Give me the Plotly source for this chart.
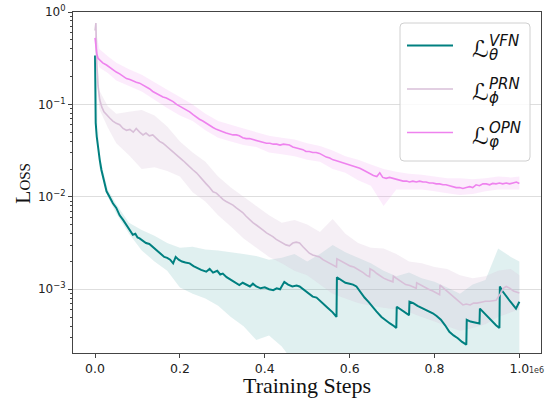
import plotly.graph_objects as go

# ---------------- data (x in units of 1e6 steps, y as log10(loss)) ----------------
vfn_x = [0.000, 0.0015, 0.004, 0.007, 0.011, 0.015, 0.020, 0.027, 0.034, 0.042, 0.050, 0.058, 0.066, 0.075,
         0.082, 0.089, 0.095, 0.100, 0.105, 0.112, 0.120, 0.128, 0.136, 0.143, 0.150, 0.157, 0.163, 0.170,
         0.177, 0.184, 0.190, 0.197, 0.205, 0.213, 0.223, 0.232, 0.240, 0.250, 0.262, 0.270, 0.278, 0.288,
         0.295, 0.301, 0.310, 0.320, 0.330, 0.340, 0.348, 0.356, 0.365, 0.372, 0.380, 0.390, 0.400, 0.410,
         0.420, 0.428, 0.436, 0.446, 0.455, 0.465, 0.475, 0.482, 0.490, 0.500, 0.513, 0.522, 0.535, 0.548,
         0.560, 0.569, 0.570, 0.580, 0.590, 0.600, 0.608, 0.616, 0.625, 0.635, 0.645, 0.655, 0.663, 0.675,
         0.685, 0.695, 0.705, 0.710, 0.711, 0.720, 0.730, 0.740, 0.741, 0.750, 0.760, 0.770, 0.780, 0.790,
         0.796, 0.805, 0.815, 0.825, 0.835, 0.845, 0.855, 0.865, 0.875, 0.876, 0.885, 0.895, 0.906, 0.907,
         0.915, 0.925, 0.935, 0.945, 0.953, 0.954, 0.960, 0.969, 0.978, 0.985, 0.992, 1.000]
vfn_log = [-0.47, -1.20, -1.35, -1.49, -1.60, -1.71, -1.82, -1.94, -2.00, -2.07, -2.12, -2.20, -2.25, -2.31,
           -2.37, -2.41, -2.40, -2.44, -2.45, -2.47, -2.50, -2.51, -2.54, -2.57, -2.60, -2.62, -2.65, -2.66,
           -2.68, -2.72, -2.65, -2.68, -2.70, -2.71, -2.72, -2.75, -2.77, -2.79, -2.81, -2.78, -2.82, -2.80,
           -2.84, -2.83, -2.87, -2.90, -2.93, -2.955, -2.93, -2.95, -2.97, -2.94, -2.97, -2.99, -2.98, -3.00,
           -3.01, -2.99, -3.00, -2.92, -2.95, -2.97, -2.96, -2.97, -3.00, -3.04, -3.08, -3.09, -3.15, -3.20,
           -3.25, -3.30, -2.87, -2.90, -2.93, -2.94, -2.95, -2.97, -3.03, -3.09, -3.14, -3.20, -3.24, -3.30,
           -3.34, -3.37, -3.40, -3.42, -3.19, -3.22, -3.25, -3.28, -3.135, -3.15, -3.18, -3.20, -3.22, -3.24,
           -3.26, -3.29, -3.33, -3.39, -3.46, -3.50, -3.53, -3.57, -3.60, -3.33, -3.35, -3.36, -3.37, -3.21,
           -3.25, -3.30, -3.35, -3.39, -3.42, -2.97, -3.02, -3.08, -3.13, -3.17, -3.21, -3.135]

prn_x = [0.000, 0.002, 0.004, 0.007, 0.011, 0.016, 0.021, 0.027, 0.035, 0.042, 0.050, 0.058, 0.066, 0.074,
         0.082, 0.090, 0.097, 0.105, 0.113, 0.120, 0.128, 0.136, 0.144, 0.152, 0.160, 0.168, 0.176, 0.184,
         0.192, 0.200, 0.208, 0.215, 0.223, 0.231, 0.239, 0.246, 0.254, 0.262, 0.270, 0.278, 0.286, 0.294,
         0.302, 0.309, 0.317, 0.325, 0.333, 0.340, 0.348, 0.356, 0.364, 0.372, 0.380, 0.388, 0.396, 0.404,
         0.412, 0.419, 0.427, 0.435, 0.443, 0.450, 0.458, 0.466, 0.474, 0.482, 0.490, 0.498, 0.505, 0.513,
         0.521, 0.529, 0.537, 0.545, 0.553, 0.561, 0.569, 0.570, 0.578, 0.586, 0.594, 0.602, 0.610, 0.616,
         0.625, 0.632, 0.640, 0.647, 0.648, 0.656, 0.664, 0.672, 0.680, 0.690, 0.702, 0.703, 0.712, 0.722,
         0.732, 0.742, 0.750, 0.757, 0.758, 0.766, 0.776, 0.786, 0.796, 0.804, 0.812, 0.813, 0.822, 0.832,
         0.842, 0.852, 0.860, 0.867, 0.875, 0.884, 0.892, 0.900, 0.910, 0.920, 0.930, 0.945, 0.955, 0.962,
         0.969, 0.978, 0.986, 0.993, 1.000]
prn_log = [-0.20, -0.12, -0.55, -0.80, -0.95, -1.03, -1.08, -1.115, -1.15, -1.18, -1.205, -1.22, -1.26, -1.28,
           -1.27, -1.30, -1.26, -1.30, -1.33, -1.31, -1.34, -1.33, -1.37, -1.40, -1.42, -1.45, -1.48, -1.51,
           -1.55, -1.58, -1.61, -1.64, -1.68, -1.71, -1.74, -1.78, -1.82, -1.86, -1.90, -1.945, -1.96, -2.00,
           -2.03, -2.05, -2.07, -2.09, -2.12, -2.14, -2.17, -2.21, -2.25, -2.28, -2.305, -2.33, -2.36, -2.39,
           -2.41, -2.43, -2.46, -2.48, -2.50, -2.52, -2.53, -2.50, -2.49, -2.50, -2.54, -2.58, -2.61, -2.63,
           -2.64, -2.65, -2.68, -2.70, -2.72, -2.74, -2.76, -2.67, -2.69, -2.71, -2.73, -2.75, -2.76, -2.775,
           -2.80, -2.82, -2.85, -2.865, -2.78, -2.80, -2.83, -2.86, -2.88, -2.90, -2.92, -2.86, -2.89, -2.92,
           -2.95, -2.96, -2.98, -2.99, -2.93, -2.95, -2.98, -3.00, -3.02, -3.04, -3.06, -2.955, -2.99, -3.03,
           -3.07, -3.11, -3.14, -3.17, -3.16, -3.17, -3.15, -3.15, -3.14, -3.13, -3.13, -3.12, -3.05, -2.99,
           -2.97, -2.99, -3.02, -3.03, -3.04]

opn_x = [0.000, 0.002, 0.004, 0.007, 0.012, 0.018, 0.027, 0.035, 0.042, 0.050, 0.058, 0.066, 0.074, 0.082,
         0.090, 0.097, 0.105, 0.113, 0.120, 0.128, 0.136, 0.144, 0.152, 0.160, 0.168, 0.176, 0.184, 0.192,
         0.200, 0.208, 0.215, 0.223, 0.231, 0.239, 0.246, 0.254, 0.262, 0.270, 0.278, 0.286, 0.294, 0.301,
         0.309, 0.317, 0.325, 0.333, 0.340, 0.348, 0.356, 0.364, 0.372, 0.380, 0.388, 0.396, 0.404, 0.412,
         0.420, 0.428, 0.436, 0.444, 0.452, 0.458, 0.466, 0.474, 0.482, 0.490, 0.497, 0.505, 0.513, 0.521,
         0.529, 0.537, 0.545, 0.553, 0.561, 0.569, 0.576, 0.584, 0.592, 0.600, 0.608, 0.616, 0.624, 0.632,
         0.640, 0.648, 0.656, 0.664, 0.671, 0.678, 0.686, 0.694, 0.702, 0.710, 0.718, 0.726, 0.734, 0.741,
         0.749, 0.757, 0.765, 0.773, 0.780, 0.788, 0.796, 0.804, 0.812, 0.820, 0.827, 0.835, 0.843, 0.851,
         0.859, 0.867, 0.875, 0.883, 0.890, 0.898, 0.906, 0.914, 0.922, 0.930, 0.937, 0.945, 0.953, 0.961,
         0.969, 0.977, 0.985, 0.993, 1.000]
opn_log = [-0.28, -0.40, -0.45, -0.50, -0.52, -0.55, -0.574, -0.60, -0.63, -0.65, -0.67, -0.70, -0.72, -0.73,
           -0.75, -0.76, -0.77, -0.79, -0.81, -0.83, -0.86, -0.88, -0.90, -0.92, -0.93, -0.95, -0.97, -1.00,
           -1.02, -1.04, -1.06, -1.08, -1.11, -1.14, -1.16, -1.18, -1.205, -1.23, -1.25, -1.27, -1.28, -1.295,
           -1.31, -1.32, -1.33, -1.33, -1.34, -1.36, -1.37, -1.37, -1.38, -1.385, -1.40, -1.41, -1.42, -1.42,
           -1.43, -1.43, -1.44, -1.43, -1.44, -1.44, -1.46, -1.47, -1.475, -1.49, -1.51, -1.51, -1.52, -1.52,
           -1.53, -1.55, -1.57, -1.58, -1.60, -1.61, -1.62, -1.63, -1.64, -1.66, -1.67, -1.68, -1.69, -1.71,
           -1.73, -1.75, -1.77, -1.78, -1.74, -1.79, -1.80, -1.79, -1.80, -1.81, -1.82, -1.83, -1.83, -1.84,
           -1.83, -1.84, -1.83, -1.84, -1.84, -1.85, -1.85, -1.86, -1.86, -1.87, -1.87, -1.88, -1.89, -1.90,
           -1.90, -1.91, -1.90, -1.89, -1.90, -1.87, -1.88, -1.86, -1.86, -1.87, -1.855, -1.86, -1.85, -1.86,
           -1.85, -1.86, -1.85, -1.84, -1.855]

band_x = [0, 0.01, 0.03, 0.05, 0.08, 0.11, 0.14, 0.17, 0.20, 0.23, 0.26, 0.29, 0.32, 0.35, 0.38, 0.41, 0.44,
          0.47, 0.50, 0.53, 0.56, 0.59, 0.62, 0.65, 0.68, 0.71, 0.74, 0.77, 0.80, 0.83, 0.86, 0.89, 0.92,
          0.95, 0.98, 1.0]
vfn_upper = [-0.45, -1.55, -1.92, -2.08, -2.28, -2.36, -2.42, -2.50, -2.55, -2.54, -2.57, -2.58, -2.60, -2.62,
             -2.64, -2.68, -2.66, -2.62, -2.70, -2.62, -2.52, -2.60, -2.66, -2.72, -2.80, -2.86, -2.82, -2.88,
             -2.92, -2.98, -3.05, -2.95, -2.90, -2.56, -2.65, -2.70]
vfn_lower = [-0.50, -1.68, -2.00, -2.18, -2.40, -2.58, -2.70, -2.80, -2.98, -3.05, -3.10, -3.18, -3.30, -3.40,
             -3.55, -3.50, -3.62, -3.80, -3.75, -3.70, -3.90, -3.95, -3.85, -3.95, -4.00, -3.90, -3.95, -3.85,
             -4.00, -3.95, -4.10, -4.00, -3.90, -3.85, -3.80, -3.75]
prn_upper = [-0.10, -0.85, -1.02, -1.10, -1.08, -1.06, -1.12, -1.24, -1.40, -1.52, -1.62, -1.78, -1.90, -2.00,
             -2.10, -2.20, -2.28, -2.25, -2.30, -2.38, -2.24, -2.40, -2.50, -2.55, -2.56, -2.62, -2.70, -2.72,
             -2.76, -2.78, -2.85, -2.88, -2.86, -2.80, -2.78, -2.85]
prn_lower = [-0.40, -1.05, -1.25, -1.42, -1.55, -1.70, -1.68, -1.72, -1.78, -1.95, -2.05, -2.20, -2.32, -2.45,
             -2.55, -2.65, -2.72, -2.80, -2.85, -2.95, -3.05, -3.10, -3.15, -3.18, -3.20, -3.22, -3.25, -3.30,
             -3.35, -3.40, -3.45, -3.42, -3.38, -3.30, -3.25, -3.22]
opn_upper = [-0.15, -0.40, -0.48, -0.55, -0.62, -0.68, -0.76, -0.84, -0.92, -1.00, -1.10, -1.18, -1.22, -1.26,
             -1.30, -1.34, -1.36, -1.38, -1.42, -1.45, -1.50, -1.56, -1.60, -1.65, -1.70, -1.73, -1.75, -1.76,
             -1.78, -1.80, -1.80, -1.81, -1.80, -1.78, -1.79, -1.78]
opn_lower = [-0.40, -0.60, -0.66, -0.74, -0.80, -0.86, -0.95, -1.04, -1.12, -1.18, -1.28, -1.36, -1.40, -1.44,
             -1.46, -1.52, -1.54, -1.56, -1.60, -1.62, -1.70, -1.74, -1.82, -1.88, -2.10, -1.92, -1.92, -1.92,
             -1.94, -1.96, -1.98, -1.97, -1.94, -1.92, -1.92, -1.92]

x_tick_vals = [0.0, 0.2, 0.4, 0.6, 0.8, 1.0]
x_tick_text = ["0.0", "0.2", "0.4", "0.6", "0.8", "1.0"]
y_tick_vals = [1, 0.1, 0.01, 0.001]
y_tick_text = ["10<sup>0</sup>", "10<sup>\u22121</sup>", "10<sup>\u22122</sup>", "10<sup>\u22123</sup>"]

series = [
    ("VFN", "\u03b8", vfn_x, vfn_log, vfn_upper, vfn_lower, "#008080", "rgba(0,128,128,0.12)", 2.0),
    ("PRN", "\u03d5", prn_x, prn_log, prn_upper, prn_lower, "#D8BFD8", "rgba(216,191,216,0.25)", 1.6),
    ("OPN", "\u03c6", opn_x, opn_log, opn_upper, opn_lower, "#EE82EE", "rgba(238,130,238,0.15)", 1.6),
]

SCALE = 1e6
fig = go.Figure()
for name, sub, xs, ys, up, lo, col, fcol, lw in series:
    bx = [v * SCALE for v in band_x] + [v * SCALE for v in band_x[::-1]]
    by = [10 ** v for v in up] + [10 ** v for v in lo[::-1]]
    fig.add_trace(go.Scatter(x=bx, y=by, fill="toself", fillcolor=fcol, mode="none",
                             hoverinfo="skip", showlegend=False))
for name, sub, xs, ys, up, lo, col, fcol, lw in series:
    fig.add_trace(go.Scatter(x=[v * SCALE for v in xs], y=[10 ** v for v in ys], mode="lines",
                             line=dict(color=col, width=lw), name=f"\u2112{sub}{name}", showlegend=False))

# ---------------- custom legend (stacked sub/superscripts) ----------------
L, R, T, B = 73, 541, 12, 353
px = lambda p: (p - L) / (R - L)
py = lambda p: (B - p) / (B - T)

x0, x1, y0, y1, r = px(400), px(530), py(161), py(23), 4
rx, ry = r / (R - L), r / (B - T)
path = (f"M {x0+rx},{y0} L {x1-rx},{y0} Q {x1},{y0} {x1},{y0+ry} L {x1},{y1-ry} Q {x1},{y1} {x1-rx},{y1} "
        f"L {x0+rx},{y1} Q {x0},{y1} {x0},{y1-ry} L {x0},{y0+ry} Q {x0},{y0} {x0+rx},{y0} Z")
shapes = [dict(type="path", path=path, xref="paper", yref="paper", fillcolor="rgba(255,255,255,0.85)",
               line=dict(color="#d0d0d0", width=1), layer="above")]
annotations = []
for i, (name, sub, xs, ys, up, lo, col, fcol, lw) in enumerate(series):
    yc = 45.5 + i * 43.5
    shapes.append(dict(type="line", xref="paper", yref="paper", x0=px(407), x1=px(453), y0=py(yc), y1=py(yc),
                       line=dict(color=col, width=lw), layer="above"))
    annotations.append(dict(x=px(470), y=py(yc + 3), xref="paper", yref="paper", text="\u2112",
                            showarrow=False, xanchor="left", yanchor="middle",
                            font=dict(family="DejaVu Sans", size=23, color="#111")))
    annotations.append(dict(x=px(487), y=py(yc - 5), xref="paper", yref="paper", text=f"<i>{name}</i>",
                            showarrow=False, xanchor="left", yanchor="middle",
                            font=dict(family="DejaVu Sans", size=15, color="#111")))
    annotations.append(dict(x=px(487), y=py(yc + 9), xref="paper", yref="paper", text=f"<i>{sub}</i>",
                            showarrow=False, xanchor="left", yanchor="middle",
                            font=dict(family="DejaVu Sans", size=15, color="#111")))

# axis titles and offset text
annotations.append(dict(x=0.5, y=py(385), xref="paper", yref="paper", text="Training Steps", showarrow=False,
                        xanchor="center", yanchor="middle",
                        font=dict(family="Liberation Serif", size=22, color="#111")))
annotations.append(dict(x=px(22), y=py(184), xref="paper", yref="paper", text="Loss", showarrow=False,
                        textangle=-90, xanchor="center", yanchor="middle",
                        font=dict(family="Liberation Serif", size=22, color="#111", variant="small-caps")))
annotations.append(dict(x=px(536), y=py(370), xref="paper", yref="paper", text="1e6", showarrow=False,
                        xanchor="center", yanchor="middle", font=dict(family="DejaVu Sans", size=8, color="#333")))

minor_vals = [m * 10 ** e for e in (-4, -3, -2, -1) for m in range(2, 10)]

fig.update_layout(
    width=551, height=402,
    margin=dict(l=L, r=551 - R, t=T, b=402 - B, autoexpand=False),
    paper_bgcolor="white", plot_bgcolor="white",
    shapes=shapes, annotations=annotations, showlegend=False,
    xaxis=dict(range=[-0.052e6, 1.051e6], tickvals=[v * SCALE for v in x_tick_vals], ticktext=x_tick_text,
               showgrid=False, zeroline=False, showline=True, mirror=True, linecolor="#444", linewidth=1,
               ticks="outside", ticklen=4, tickcolor="#444", automargin=False,
               tickfont=dict(family="DejaVu Sans", size=12.5, color="#222")),
    yaxis=dict(type="log", range=[-3.69, 0], tickvals=y_tick_vals, ticktext=y_tick_text,
               showgrid=True, gridcolor="#dedede", gridwidth=1, zeroline=False,
               showline=True, mirror=True, linecolor="#444", linewidth=1,
               ticks="outside", ticklen=4, tickcolor="#444", automargin=False,
               minor=dict(tickvals=minor_vals, ticks="outside", ticklen=2, tickcolor="#444", showgrid=False),
               tickfont=dict(family="DejaVu Sans", size=12, color="#222")),
)

fig.write_html("out.html", config={"displayModeBar": False},
               post_script="document.body.style.margin='0';document.body.style.overflow='hidden';")
